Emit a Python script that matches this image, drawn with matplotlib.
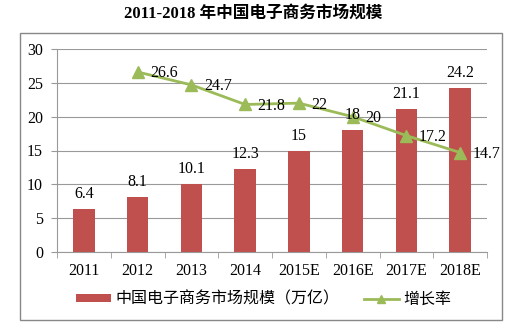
import matplotlib.pyplot as plt
from matplotlib.patches import Rectangle
import numpy as np

# data
years = ['2011', '2012', '2013', '2014', '2015E', '2016E', '2017E', '2018E']
market_size = [6.4, 8.1, 10.1, 12.3, 15, 18, 21.1, 24.2]
growth_years = ['2012', '2013', '2014', '2015E', '2016E', '2017E', '2018E']
growth_rate = [26.6, 24.7, 21.8, 22, 20, 17.2, 14.7]
size_labels = ['6.4', '8.1', '10.1', '12.3', '15', '18', '21.1', '24.2']
rate_labels = ['26.6', '24.7', '21.8', '22', '20', '17.2', '14.7']

BAR_COLOR = '#C0504D'
LINE_COLOR = '#9BBB59'
SERIF = ['Liberation Serif', 'Noto Sans CJK SC']
CJK = ['Noto Sans CJK SC', 'DejaVu Sans']

fig = plt.figure(figsize=(5.07, 3.24), dpi=100)
ax = fig.add_axes([57 / 507, 1 - 252 / 324, 430 / 507, 203 / 324])

x = np.arange(len(years))
bars = ax.bar(x, market_size, width=0.4, color=BAR_COLOR, zorder=2,
              label='中国电子商务市场规模（万亿）')
gx = [years.index(y) for y in growth_years]
line, = ax.plot(gx, growth_rate, color=LINE_COLOR, lw=2, marker='^', ms=8,
                zorder=3, label='增长率')

for xi, v, t in zip(x, market_size, size_labels):
    ax.annotate(t, (xi, v), xytext=(0, 5), textcoords='offset points',
                ha='center', va='bottom', fontsize=11.5, family=SERIF)
for xi, v, t in zip(gx, growth_rate, rate_labels):
    ax.annotate(t, (xi, v), xytext=(9, -1), textcoords='offset points',
                ha='left', va='center', fontsize=11.5, family=SERIF)

ax.set_xlim(-0.5, len(years) - 0.5)
ax.set_ylim(0, 30)
ax.set_yticks(range(0, 31, 5))
ax.set_xticks(x)
ax.set_xticklabels(years, family=SERIF, fontsize=11.5)
for lab in ax.get_yticklabels():
    lab.set_family(SERIF)
    lab.set_fontsize(11.5)
ax.set_xticks(np.arange(-0.5, len(years)), minor=True)
ax.tick_params(axis='x', which='major', length=0, pad=8)
ax.tick_params(axis='x', which='minor', length=4, color='#999999')
ax.tick_params(axis='y', length=4, color='#999999', pad=6)
ax.grid(axis='y', color='#999999', lw=0.8, zorder=0)
ax.set_axisbelow(True)
for s in ['top', 'right']:
    ax.spines[s].set_visible(False)
for s in ['left', 'bottom']:
    ax.spines[s].set_color('#999999')

fig.text(0.5, 1 - 14 / 324, '2011-2018 年中国电子商务市场规模', ha='center',
         va='center', fontsize=12, fontweight='bold', family=SERIF)

leg = fig.legend([bars, line], [bars.get_label(), line.get_label()],
                 loc='center', bbox_to_anchor=(0.52, 1 - 299 / 324), ncol=2,
                 frameon=False, prop={'family': CJK, 'size': 11.5},
                 handlelength=2.2, handleheight=0.45, columnspacing=1.5,
                 handletextpad=0.3, markerscale=0.7)

fig.patches.append(Rectangle((20 / 507, 1 - 320 / 324), 482 / 507, 287 / 324,
                             transform=fig.transFigure, fill=False,
                             edgecolor='#888888', lw=1))

fig.savefig('out.png', dpi=100)
